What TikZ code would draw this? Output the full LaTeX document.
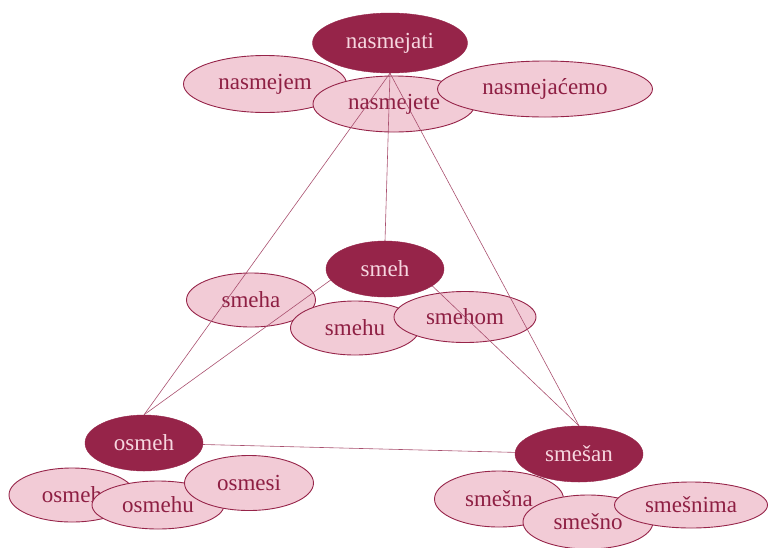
\documentclass[tikz,border=0pt]{standalone}
\usepackage{fontspec}
\setmainfont{Liberation Serif}
\usetikzlibrary{shapes.geometric}
\definecolor{smdark}{HTML}{962449}
\definecolor{smlight}{HTML}{F2CBD6}
\definecolor{smline}{HTML}{A9506F}
\definecolor{smtext}{HTML}{8E1F43}
\definecolor{smpale}{HTML}{F6D6DF}
\pgfdeclarelayer{forms}
\pgfdeclarelayer{links}
\pgfsetlayers{forms,links,main}

\begin{document}
\begin{tikzpicture}[x=1pt, y=-1pt, font=\fontsize{23}{25}\selectfont,
          stem/.style={ellipse, fill=smdark, draw=smdark, text=smpale, inner sep=0pt},
          form/.style={ellipse, fill=smlight, draw=smdark, line width=.9pt, text=smtext, inner sep=0pt},
          link/.style={smline, line width=.6pt}]
          \useasboundingbox (0,0) rectangle (768,547);
          % stems
          \node[stem, minimum width=155pt, minimum height=60pt] (nas) at (390,43) {nasmejati};
          \node[stem, minimum width=118pt, minimum height=56pt] (smeh) at (385,269) {smeh};
          \node[stem, minimum width=118pt, minimum height=56pt] (osm) at (144,443) {osmeh};
          \node[stem, minimum width=128pt, minimum height=56pt] (sms) at (579,454) {smešan};
          \begin{pgfonlayer}{forms}
          % forms of nasmejati
          \node[form, minimum width=163pt, minimum height=57pt] (nas1) at (265,84) {nasmejem};
          \node[form, minimum width=162pt, minimum height=56pt] (nas2) at (394,104) {nasmejete};
          \node[form, minimum width=215pt, minimum height=56pt] (nas3) at (545,89) {nasmejaćemo};
          % forms of smeh
          \node[form, minimum width=129pt, minimum height=54pt] (smeh1) at (251,300) {smeha};
          \node[form, minimum width=129pt, minimum height=54pt] (smeh2) at (355,328) {smehu};
          \node[form, minimum width=142pt, minimum height=51pt] (smeh3) at (465,317) {smehom};
          % forms of osmeh
          \node[form, minimum width=126pt, minimum height=54pt] (osm1) at (72,495) {osmeh};
          \node[form, minimum width=132pt, minimum height=48pt] (osm2) at (158,505) {osmehu};
          \node[form, minimum width=129pt, minimum height=55pt] (osm3) at (249,483) {osmesi};
          % forms of smešan
          \node[form, minimum width=129pt, minimum height=56pt] (sms1) at (499,499) {smešna};
          \node[form, minimum width=130pt, minimum height=54pt] (sms2) at (588,522) {smešno};
          \node[form, minimum width=153pt, minimum height=46pt] (sms3) at (691,505) {smešnima};
          \end{pgfonlayer}
          \begin{pgfonlayer}{links}
          \draw[link] (nas.south) -- (osm.north);
          \draw[link] (nas.south) -- (smeh.north);
          \draw[link] (nas.south) -- (sms.north);
          \draw[link] (smeh.north) -- (osm.north);
          \draw[link] (smeh.north) -- (sms.north);
          \draw[link] (osm) -- (sms);
          \end{pgfonlayer}
        \end{tikzpicture}
\end{document}
